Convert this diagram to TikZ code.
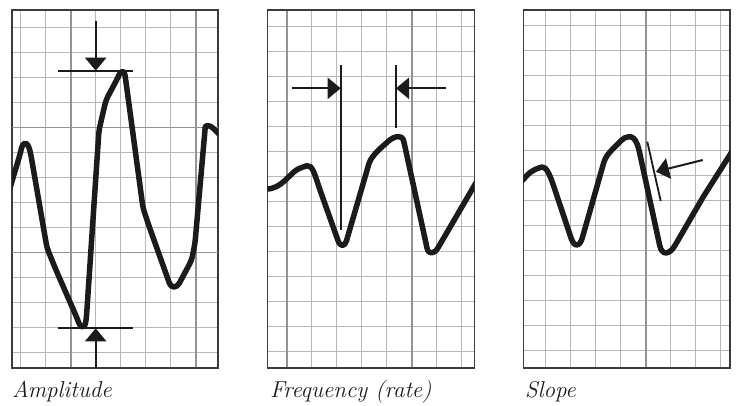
\documentclass[tikz,border=0pt]{standalone}
\usetikzlibrary{arrows.meta}
\definecolor{ecGrid}{HTML}{B8B8B8}
\definecolor{ecMajor}{HTML}{939393}
\definecolor{ecFrame}{HTML}{3C3C3C}
\definecolor{ecInk}{HTML}{1C1A1A}
\newcommand{\ECType}{\itshape\fontsize{23}{26}\selectfont}
\tikzset{ec/base/.style={x=1pt,y=-1pt,line cap=butt,line join=miter,
  every node/.style={font=\ECType,inner sep=0pt,text=ecInk}},
  ec/grid/.style={draw=ecGrid,line width=1.3pt},
  ec/major/.style={draw=ecMajor,line width=2pt},
  ec/frame/.style={draw=ecFrame,line width=1.5pt},
  ec/trace/.style={draw=ecInk,line width=5.5pt,line join=round,line cap=round,rounded corners=4pt},
  ec/mark/.style={draw=ecInk,line width=1.8pt},
  ec/arrow/.style={-{Triangle[length=13pt,width=21pt]},draw=ecInk,fill=ecInk,line width=2pt}}

\begin{document}
\begin{tikzpicture}[ec/base]
  \useasboundingbox (0,0) rectangle (736,405);
  % Three strips of chart paper, each cut with its own grid offset.
  \foreach \l/\r/\vx/\hy/\mx in {12/218/20.7/27.3/{70.7,195.7},
      267.3/474.3/286.7/26.7/{286.7,411.7},523.3/730/545.7/25.7/{645.7}}{%
    \foreach \k in {0,...,7}{\draw[ec/grid] ({\vx+25*\k},10)--({\vx+25*\k},368);}
    \foreach \k in {0,...,13}{\draw[ec/grid] (\l,{\hy+25*\k})--(\r,{\hy+25*\k});}
    \foreach \m in \mx{\draw[ec/major] (\m,10)--(\m,368);}
    \draw[ec/frame] (\l,10) rectangle (\r,368);}
  \draw[ec/major,line width=1.5pt] (12,127.3)--(218,127.3) (12,252.3)--(218,252.3);
  % Traces: straight runs, peaks and troughs bent round.
  \begin{scope}
    \clip (12,10) rectangle (218,368) (267.3,10) rectangle (474.3,368)
      (523.3,10) rectangle (730,368);
    \draw[ec/trace] (10,188)--(20.2,153.8) .. controls (23.1,140.7) and (27.3,140.7) .. (30.7,153.8)
      --(47,248)--(56,270)--(76.9,317.8) .. controls (80.9,328.7) and (84.7,328.7) .. (86.4,317.8)
      --(99,130)--(106,100)--(117.5,78.4) .. controls (121,70.5) and (124.2,70.5) .. (125.5,78.4)
      --(143,208)--(149,226)--(168,279.3) .. controls (171.2,288.3) and (176.6,288.3) .. (181.4,279.3)
      --(191.7,260)--(195,243)--(204.9,131.1) .. controls (205.4,125) and (209.9,125) .. (216.1,131.1)
      --(222,137);
    \draw[ec/trace] (265,189) .. controls (282,190) and (290,172) .. (303,167)
      .. controls (312,164) and (315,175) .. (320,190)
      --(336.7,236.9) .. controls (340.4,247) and (344.7,247) .. (347.6,236.9)--(370,160)--(376.7,151.7)
      --(385.7,143.6) .. controls (394.9,135.4) and (402.3,135.4) .. (404.3,143.6)
      --(426.2,244.2) .. controls (428.4,254.6) and (434,254.6) .. (440.1,244.2)--(477,181);
    \draw[ec/trace] (521,182) .. controls (530,172) .. (538,168)
      .. controls (546,166) and (550,175) .. (555,190)
      --(569.7,234) .. controls (574.1,247.3) and (579.6,247.3) .. (583.4,234)--(605,158.3)--(610,151.7)
      --(618,143.7) .. controls (625,136.5) and (633,133) .. (638.5,147.6)
      --(658.9,241.8) .. controls (661.9,255.4) and (669.2,255.4) .. (677.1,241.8)--(703.3,196.7)--(733,150);
  \end{scope}
  % Amplitude: peak and trough bars.
  \coordinate (ampHi) at (95.7,70.7);
  \coordinate (ampLo) at (95.7,328.3);
  \coordinate (ampHiTail) at (95.7,20.7);
  \coordinate (ampLoTail) at (95.7,368);
  \draw[ec/mark] ([xshift=-37.4pt]ampHi)--([xshift=37pt]ampHi);
  \draw[ec/mark] ([xshift=-37.4pt]ampLo)--([xshift=37pt]ampLo);
  \draw[ec/arrow] (ampHiTail)--(ampHi);
  \draw[ec/arrow] (ampLoTail)--(ampLo);
  % Frequency: trough-to-peak spacing.
  \coordinate (freqA) at (340.7,88.3);
  \coordinate (freqB) at (396,88.3);
  \coordinate (freqATail) at (291.7,88.3);
  \coordinate (freqBTail) at (446,88.3);
  \draw[ec/mark] (340.7,65)--(340.7,230);
  \draw[ec/mark] (396,65)--(396,128.3);
  \draw[ec/arrow] (freqATail)--(freqA);
  \draw[ec/arrow] (freqBTail)--(freqB);
  % Slope: tangent along the falling edge.
  \coordinate (slopeTop) at (647.3,141.7);
  \coordinate (slopeBot) at (660.7,201);
  \coordinate (slopeHit) at (656,171.7);
  \coordinate (slopeTail) at (702.7,160);
  \draw[ec/mark] (slopeTop)--(slopeBot);
  \draw[ec/arrow] (slopeTail)--(slopeHit);
  \node[anchor=base west] (ampLabel) at (12,397) {Amplitude};
  \node[anchor=base west] (freqLabel) at (270,397) {Frequency (rate)};
  \node[anchor=base west] (slopeLabel) at (525,397) {Slope};
\end{tikzpicture}
\end{document}
